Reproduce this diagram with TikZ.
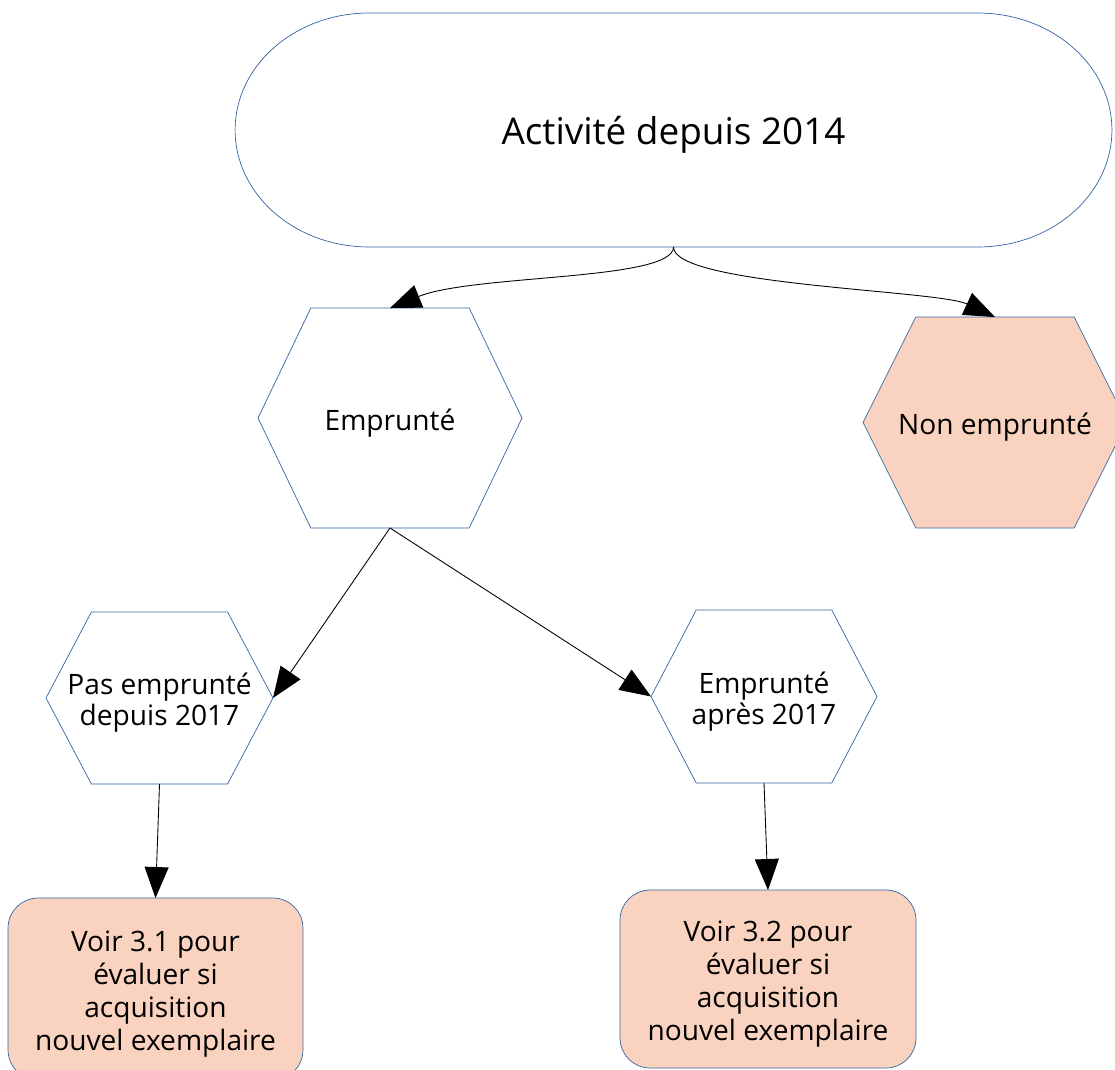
\documentclass[tikz,border=0pt]{standalone}
\usepackage{fontspec}
\setmainfont{Open Sans}
\usetikzlibrary{arrows.meta,calc,backgrounds}
\definecolor{bord}{HTML}{3465A4}
\definecolor{peche}{HTML}{FAD3C0}
\newcommand\bas[1]{\raisebox{-2.8pt}[\height][\depth]{#1}}
\begin{document}
\begin{tikzpicture}[x=0.02cm,y=-0.02cm,>={Triangle[length=0.62cm,width=0.48cm]},
	hexa/.style={inner sep=0pt,outer sep=0pt,font=\fontsize{16}{17.6}\selectfont},
	boite/.style={draw=bord,fill=peche,rounded corners=0.6cm,inner sep=0pt,outer sep=0pt,font=\fontsize{16}{18.7}\selectfont},
	fleche/.style={->,line width=0.5pt}]

	\useasboundingbox (0,0) rectangle (1115,1069);

	% grand bloc
	\node[inner sep=0pt,outer sep=0pt,minimum width=17.54cm,minimum height=4.68cm,font=\fontsize{21}{24}\selectfont] (activite) at (673.5,130) {\bas{Activité depuis 2014}};

	% hexagones
	\node[hexa,minimum width=5.28cm,minimum height=4.4cm] (emprunte) at (390,418) {\bas{Emprunté}};
	\node[hexa,minimum width=5.28cm,minimum height=4.22cm] (nonemp) at (995,422.5) {\bas{Non emprunté}};
	\node[hexa,minimum width=4.54cm,minimum height=3.44cm] (pasemp) at (159.5,698) {\bas{\parbox{4.3cm}{\centering Pas emprunté\\depuis 2017}}};
	\node[hexa,minimum width=4.52cm,minimum height=3.46cm] (apres) at (764,696.5) {\bas{\parbox{4.3cm}{\centering Emprunté\\après 2017}}};

	% renvois
	\node[boite,minimum width=5.9cm,minimum height=3.64cm] (voirA) at (155.5,989) {\bas{\parbox{5.6cm}{\centering Voir 3.1 pour\\évaluer si\\acquisition\\nouvel exemplaire}}};
	\node[boite,minimum width=5.92cm,minimum height=3.56cm] (voirB) at (768,979) {\bas{\parbox{5.6cm}{\centering Voir 3.2 pour\\évaluer si\\acquisition\\nouvel exemplaire}}};

	% contours
	\begin{scope}[on background layer]
	\draw[bord,fill=white] ([xshift=2.68cm]activite.north west) -- ([xshift=-2.68cm]activite.north east) arc[start angle=90,end angle=-90,x radius=2.68cm,y radius=2.34cm] -- ([xshift=2.68cm]activite.south west) arc[start angle=270,end angle=90,x radius=2.68cm,y radius=2.34cm] -- cycle;
	\foreach \n/\c in {emprunte/white,nonemp/peche,pasemp/white,apres/white}
		\filldraw[draw=bord,fill=\c] (\n.west) -- ($(\n.north west)!.2!(\n.north east)$) -- ($(\n.north west)!.8!(\n.north east)$) -- (\n.east) -- ($(\n.south west)!.8!(\n.south east)$) -- ($(\n.south west)!.2!(\n.south east)$) -- cycle;
	\end{scope}

	% fleches
	\draw[fleche] (activite.south) to[out=-90,in=22,out looseness=0.3,in looseness=0.8] (emprunte.north);
	\draw[fleche] (activite.south) to[out=-90,in=155,out looseness=0.3,in looseness=0.5] (nonemp.north);
	\draw[fleche] (emprunte.south) -- (pasemp.east);
	\draw[fleche] (emprunte.south) -- (apres.west);
	\draw[fleche] (pasemp.south) -- (voirA.north);
	\draw[fleche] (apres.south) -- (voirB.north);

\end{tikzpicture}
\end{document}
